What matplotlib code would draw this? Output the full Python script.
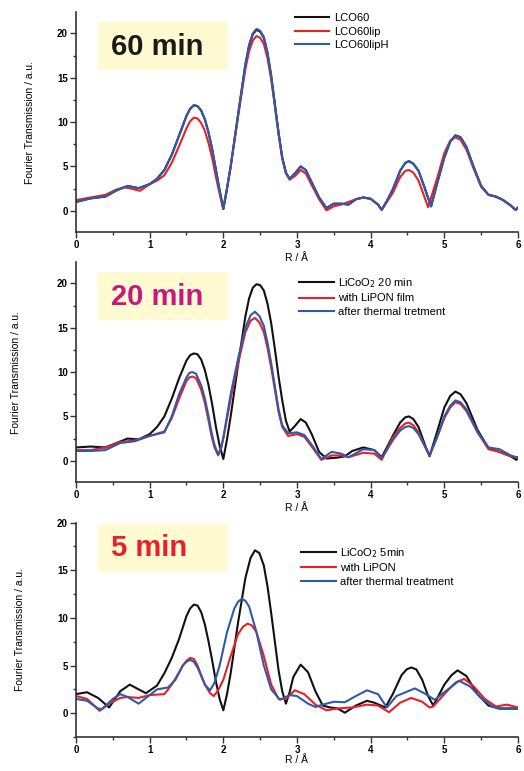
import numpy as np
import matplotlib
matplotlib.use("Agg")
import matplotlib.pyplot as plt
from matplotlib.patches import Rectangle
from matplotlib.ticker import MultipleLocator

plt.rcParams['font.family'] = ['Liberation Sans', 'DejaVu Sans']

# ---------------- 60 min ----------------
r60 = [0, 0.2, 0.4, 0.55, 0.7, 0.85, 1.0, 1.1, 1.2, 1.3, 1.4, 1.5, 1.55, 1.6, 1.65, 1.7,
       1.75, 1.8, 1.85, 1.9, 1.95, 2.0, 2.05, 2.1, 2.2, 2.3, 2.35, 2.4, 2.45, 2.5, 2.55,
       2.6, 2.65, 2.7, 2.75, 2.8, 2.85, 2.9, 2.97, 3.05, 3.12, 3.2, 3.3, 3.4, 3.5, 3.6,
       3.7, 3.8, 3.9, 4.0, 4.1, 4.15, 4.22, 4.3, 4.4, 4.47, 4.52, 4.58, 4.65, 4.72, 4.82,
       4.9, 5.0, 5.08, 5.15, 5.22, 5.3, 5.4, 5.5, 5.6, 5.7, 5.8, 5.9, 5.97, 6.0]
lco60 = [1.0, 1.4, 1.6, 2.3, 2.8, 2.55, 3.0, 3.6, 4.6, 6.3, 8.5, 10.7, 11.5, 11.9, 11.8, 11.3,
         10.3, 8.8, 6.9, 4.6, 2.3, 0.2, 2.5, 5.0, 10.8, 16.5, 18.6, 19.9, 20.4, 20.2, 19.5,
         17.8, 15.2, 12.0, 8.8, 6.0, 4.3, 3.6, 4.2, 5.0, 4.6, 3.2, 1.5, 0.3, 0.8, 0.8,
         0.7, 1.3, 1.5, 1.35, 0.7, 0.1, 1.1, 2.4, 4.5, 5.4, 5.6, 5.3, 4.5, 2.9, 0.5,
         3.0, 6.0, 7.8, 8.5, 8.3, 7.2, 4.9, 2.8, 1.8, 1.6, 1.2, 0.6, 0.1, 0.35]
lco60lipH = [1.0, 1.4, 1.6, 2.3, 2.8, 2.55, 3.0, 3.6, 4.6, 6.3, 8.5, 10.7, 11.5, 11.9, 11.8, 11.3,
             10.3, 8.8, 6.9, 4.6, 2.3, 0.2, 2.5, 5.0, 10.8, 16.5, 18.7, 20.0, 20.5, 20.3, 19.6,
             17.8, 15.2, 12.0, 8.8, 6.0, 4.3, 3.6, 4.2, 5.0, 4.6, 3.2, 1.5, 0.3, 0.8, 0.8,
             0.7, 1.3, 1.5, 1.35, 0.7, 0.1, 1.1, 2.4, 4.5, 5.4, 5.6, 5.3, 4.5, 2.9, 0.5,
             3.0, 6.0, 7.8, 8.5, 8.3, 7.2, 4.9, 2.8, 1.8, 1.6, 1.2, 0.6, 0.1, 0.35]
r60lip = [0, 0.2, 0.4, 0.55, 0.65, 0.75, 0.87, 1.0, 1.1, 1.2, 1.3, 1.4, 1.5, 1.55, 1.6, 1.65,
          1.7, 1.75, 1.8, 1.85, 1.9, 1.95, 2.0, 2.05, 2.1, 2.2, 2.3, 2.35, 2.4, 2.45, 2.5,
          2.55, 2.6, 2.65, 2.7, 2.75, 2.8, 2.85, 2.9, 2.97, 3.05, 3.12, 3.2, 3.3, 3.4, 3.5,
          3.6, 3.7, 3.8, 3.9, 4.0, 4.1, 4.15, 4.22, 4.3, 4.4, 4.47, 4.52, 4.58, 4.65, 4.72,
          4.78, 4.9, 5.0, 5.08, 5.15, 5.22, 5.3, 5.4, 5.5, 5.6, 5.7, 5.8, 5.9, 5.97, 6.0]
lco60lip = [1.2, 1.5, 1.8, 2.4, 2.65, 2.5, 2.25, 3.0, 3.4, 4.0, 5.4, 7.3, 9.3, 10.1, 10.5, 10.4,
            9.9, 9.0, 7.6, 5.9, 3.8, 1.9, 0.2, 2.5, 5.0, 10.6, 16.0, 18.0, 19.2, 19.7, 19.5,
            18.8, 17.2, 14.8, 11.8, 8.6, 5.9, 4.2, 3.5, 3.9, 4.6, 4.2, 2.9, 1.3, 0.05, 0.5,
            0.7, 1.0, 1.3, 1.5, 1.35, 0.7, 0.1, 1.0, 2.0, 3.8, 4.5, 4.6, 4.3, 3.4, 1.8,
            0.4, 3.6, 6.5, 7.9, 8.3, 8.0, 6.9, 4.7, 2.7, 1.8, 1.6, 1.2, 0.6, 0.1, 0.35]

# ---------------- 20 min ----------------
r20k = [0, 0.2, 0.4, 0.55, 0.7, 0.85, 1.0, 1.1, 1.2, 1.3, 1.4, 1.5, 1.55, 1.6, 1.65, 1.7,
        1.75, 1.8, 1.85, 1.9, 1.95, 2.0, 2.05, 2.1, 2.2, 2.3, 2.35, 2.4, 2.45, 2.5, 2.55,
        2.6, 2.65, 2.7, 2.75, 2.8, 2.85, 2.9, 2.97, 3.05, 3.12, 3.2, 3.3, 3.4, 3.55, 3.65,
        3.75, 3.9, 4.05, 4.15, 4.22, 4.3, 4.4, 4.47, 4.52, 4.58, 4.65, 4.75, 4.8, 4.9, 5.0,
        5.08, 5.15, 5.22, 5.3, 5.45, 5.6, 5.75, 5.9, 5.98, 6.0]
lco20 = [1.5, 1.6, 1.5, 2.0, 2.5, 2.4, 3.0, 3.8, 5.0, 7.0, 9.3, 11.3, 11.9, 12.1, 12.0, 11.4,
         10.2, 8.5, 6.3, 3.8, 1.7, 0.2, 2.4, 5.0, 10.8, 16.3, 18.3, 19.5, 19.9, 19.8, 19.2,
         17.7, 15.5, 12.6, 9.5, 6.8, 4.5, 3.3, 3.9, 4.7, 4.3, 3.0, 1.0, 0.25, 0.35, 0.5,
         1.1, 1.5, 1.2, 0.4, 1.5, 2.8, 4.3, 4.9, 5.0, 4.7, 3.8, 1.5, 0.5, 3.2, 6.0,
         7.3, 7.8, 7.5, 6.5, 3.5, 1.4, 1.0, 0.5, 0.1, 0.3]
r20 = [0, 0.2, 0.4, 0.6, 0.8, 1.0, 1.2, 1.3, 1.4, 1.5, 1.54, 1.58, 1.63, 1.7, 1.75, 1.8,
       1.84, 1.88, 1.93, 1.97, 2.0, 2.1, 2.2, 2.3, 2.37, 2.43, 2.49, 2.55, 2.6, 2.65, 2.7,
       2.75, 2.8, 2.88, 3.0, 3.1, 3.2, 3.33, 3.47, 3.6, 3.7, 3.9, 4.05, 4.15, 4.22, 4.3,
       4.4, 4.47, 4.52, 4.58, 4.65, 4.75, 4.8, 4.9, 5.0, 5.08, 5.15, 5.22, 5.3, 5.45, 5.6,
       5.75, 5.9, 6.0]
lipon20 = [1.2, 1.2, 1.5, 2.1, 2.3, 2.8, 3.3, 4.8, 7.0, 9.0, 9.4, 9.5, 9.3, 8.0, 6.5, 4.5,
           2.8, 1.5, 0.6, 1.4, 2.5, 7.0, 11.0, 14.5, 15.8, 16.1, 15.6, 14.5, 12.7, 10.5, 8.0,
           5.5, 3.8, 2.8, 3.0, 2.7, 1.6, 0.1, 0.6, 0.6, 0.4, 0.9, 0.8, 0.1, 1.3, 2.6,
           3.7, 4.2, 4.3, 4.0, 3.2, 1.4, 0.6, 2.6, 4.8, 6.0, 6.6, 6.4, 5.6, 3.2, 1.3,
           1.0, 0.5, 0.4]
thermal20 = [1.1, 1.1, 1.2, 2.0, 2.2, 2.8, 3.2, 5.0, 7.5, 9.4, 9.9, 10.0, 9.8, 8.5, 7.0, 5.0,
             3.2, 1.8, 0.7, 1.5, 2.6, 7.5, 11.5, 15.0, 16.4, 16.8, 16.3, 15.2, 13.3, 11.0, 8.4,
             5.8, 4.0, 3.1, 3.2, 2.9, 1.8, 0.2, 1.0, 0.8, 0.4, 1.3, 1.2, 0.3, 1.2, 2.3,
             3.4, 3.8, 3.9, 3.7, 3.0, 1.4, 0.6, 2.6, 5.0, 6.2, 6.8, 6.6, 5.8, 3.3, 1.5,
             1.3, 0.6, 0.3]

# ---------------- 5 min ----------------
r5k = [0, 0.15, 0.3, 0.45, 0.6, 0.73, 0.85, 0.95, 1.1, 1.2, 1.3, 1.4, 1.5, 1.55, 1.6, 1.65,
       1.7, 1.75, 1.8, 1.85, 1.9, 1.95, 2.0, 2.05, 2.1, 2.2, 2.3, 2.37, 2.43, 2.49, 2.55,
       2.6, 2.65, 2.7, 2.75, 2.8, 2.85, 2.9, 2.95, 3.05, 3.15, 3.25, 3.35, 3.45, 3.55, 3.65,
       3.8, 3.95, 4.05, 4.2, 4.3, 4.42, 4.49, 4.55, 4.62, 4.7, 4.78, 4.85, 4.92, 5.0, 5.1,
       5.18, 5.3, 5.45, 5.6, 5.75, 5.9, 6.0]
lco5 = [2.0, 2.2, 1.6, 0.6, 2.3, 3.0, 2.5, 2.1, 2.9, 4.2, 5.8, 7.8, 10.2, 11.0, 11.4, 11.3,
        10.6, 9.3, 7.5, 5.5, 3.3, 1.5, 0.3, 2.0, 4.2, 9.5, 14.2, 16.3, 17.1, 16.8, 15.5,
        13.3, 10.5, 7.5, 4.5, 2.3, 1.0, 2.2, 3.8, 5.1, 4.3, 2.3, 0.8, 0.6, 0.5, 0.05,
        0.8, 1.3, 1.1, 0.6, 2.0, 4.0, 4.6, 4.8, 4.6, 3.5, 1.8, 0.8, 1.8, 3.0, 4.0,
        4.5, 3.9, 2.0, 0.8, 0.5, 0.5, 0.5]
r5r = [0, 0.15, 0.32, 0.45, 0.6, 0.7, 0.85, 1.0, 1.2, 1.3, 1.4, 1.45, 1.5, 1.55, 1.6, 1.65,
       1.75, 1.82, 1.87, 1.93, 2.0, 2.1, 2.2, 2.27, 2.33, 2.39, 2.45, 2.55, 2.65, 2.75, 2.85,
       2.97, 3.1, 3.25, 3.4, 3.55, 3.75, 3.95, 4.1, 4.25, 4.4, 4.55, 4.7, 4.8, 4.85, 5.0,
       5.15, 5.27, 5.4, 5.55, 5.7, 5.85, 5.95, 6.0]
lipon5 = [1.8, 1.5, 0.25, 1.0, 1.6, 1.7, 1.6, 1.9, 2.0, 3.0, 4.3, 5.0, 5.5, 5.8, 5.7, 5.0,
          3.0, 2.1, 1.8, 2.4, 3.5, 6.0, 8.3, 9.1, 9.4, 9.2, 8.5, 6.0, 3.0, 1.5, 1.5,
          2.4, 2.0, 0.9, 0.3, 0.5, 0.6, 0.9, 0.8, 0.1, 1.1, 1.6, 1.2, 0.6, 0.7, 2.0,
          3.2, 3.6, 2.8, 1.5, 0.7, 0.9, 0.7, 0.6]
r5b = [0, 0.15, 0.3, 0.35, 0.5, 0.6, 0.7, 0.85, 1.0, 1.1, 1.25, 1.35, 1.45, 1.5, 1.55, 1.6,
       1.65, 1.75, 1.82, 1.88, 1.95, 2.05, 2.15, 2.2, 2.25, 2.3, 2.35, 2.45, 2.55, 2.65, 2.77,
       2.9, 3.0, 3.15, 3.25, 3.35, 3.5, 3.65, 3.8, 3.95, 4.1, 4.22, 4.35, 4.6, 4.75, 4.87,
       5.0, 5.2, 5.35, 5.5, 5.65, 5.75, 6.0]
thermal5 = [1.5, 1.3, 0.5, 0.4, 1.5, 2.0, 1.7, 1.0, 1.9, 2.5, 2.7, 3.5, 5.0, 5.4, 5.6, 5.4,
            4.8, 3.0, 2.4, 3.2, 5.0, 8.5, 11.0, 11.7, 12.0, 11.8, 11.2, 8.5, 5.0, 2.5, 1.4,
            1.9, 1.8, 1.0, 0.65, 0.9, 1.2, 1.15, 1.8, 2.4, 2.0, 0.6, 1.8, 2.6, 2.0, 1.4,
            2.2, 3.4, 2.8, 1.6, 0.7, 0.45, 0.45]

black = '#111111'
red = '#e8202a'
blue = '#2f5aa8'
boxcolor = '#fffad2'

fig = plt.figure(figsize=(5.24, 7.71), dpi=100)

panels = [
    dict(rect=[0.145, 0.699, 0.8435, 0.2853], ylim=(-2.4, 22.4), yticks=[0, 5, 10, 15, 20],
         title='60 min', tcolor='#1a1a1a', box=(0.05, 0.736, 0.294, 0.219), ty=0.842,
         leg=(0.495, 0.995), ylx=-0.092, xly=-0.095,
         series=[(r60, lco60, black, 'LCO60'), (r60lip, lco60lip, red, 'LCO60lip'),
                 (r60, lco60lipH, blue, 'LCO60lipH')]),
    dict(rect=[0.145, 0.3748, 0.8435, 0.2853], ylim=(-2.4, 22.4), yticks=[0, 5, 10, 15, 20],
         title='20 min', tcolor='#c8177e', box=(0.05, 0.736, 0.294, 0.22), ty=0.842,
         leg=(0.505, 0.935), ylx=-0.125, xly=-0.095,
         series=[(r20k, lco20, black, r'LiCoO$_2$ 20 min'), (r20, lipon20, red, 'with LiPON film'),
                 (r20, thermal20, blue, 'after thermal tretment')]),
    dict(rect=[0.145, 0.0441, 0.8435, 0.278], ylim=(-2.5, 20), yticks=[0, 5, 10, 15, 20],
         title='5 min', tcolor='#e8202a', box=(0.05, 0.772, 0.294, 0.222), ty=0.881,
         leg=(0.51, 0.89), ylx=-0.115, xly=-0.082,
         series=[(r5k, lco5, black, r'LiCoO$_2$ 5min'), (r5r, lipon5, red, 'with LiPON'),
                 (r5b, thermal5, blue, 'after thermal treatment')]),
]

for p in panels:
    ax = fig.add_axes(p['rect'])
    for xs, ys, c, lab in p['series']:
        ax.plot(xs, ys, color=c, lw=1.5, label=lab, solid_joinstyle='round')
    ax.set_xlim(0, 6)
    ax.set_ylim(*p['ylim'])
    ax.set_yticks(p['yticks'])
    ax.xaxis.set_major_locator(MultipleLocator(1))
    ax.xaxis.set_minor_locator(MultipleLocator(0.5))
    ax.yaxis.set_minor_locator(MultipleLocator(2.5))
    for s in ['top', 'right']:
        ax.spines[s].set_visible(False)
    for s in ['left', 'bottom']:
        ax.spines[s].set_linewidth(1.2)
        ax.spines[s].set_color('#333333')
    ax.tick_params(which='major', direction='out', length=4, width=1, color='#333333',
                   labelsize=7, pad=2)
    ax.tick_params(which='minor', direction='out', length=2.5, width=1, color='#333333')
    for t in ax.get_xticklabels() + ax.get_yticklabels():
        t.set_fontweight('bold')
    ax.set_xlabel('R / Å', fontsize=7.5)
    ax.xaxis.set_label_coords(0.5, p['xly'])
    ax.set_ylabel('Fourier Transmission / a.u.', fontsize=7.5)
    ax.yaxis.set_label_coords(p['ylx'], 0.5)

    bx, by, bw, bh = p['box']
    ax.add_patch(Rectangle((bx, by), bw, bh, transform=ax.transAxes,
                           facecolor=boxcolor, edgecolor='none', zorder=0))
    ax.text(0.079, p['ty'], p['title'], transform=ax.transAxes, fontsize=21,
            fontweight='bold', color=p['tcolor'], va='center', ha='left')

    ax.legend(loc='upper left', bbox_to_anchor=p['leg'], frameon=False, fontsize=8,
              handlelength=3.1, handletextpad=0.4, labelspacing=0.3,
              borderpad=0, borderaxespad=0)

fig.savefig('out.png', dpi=100)
